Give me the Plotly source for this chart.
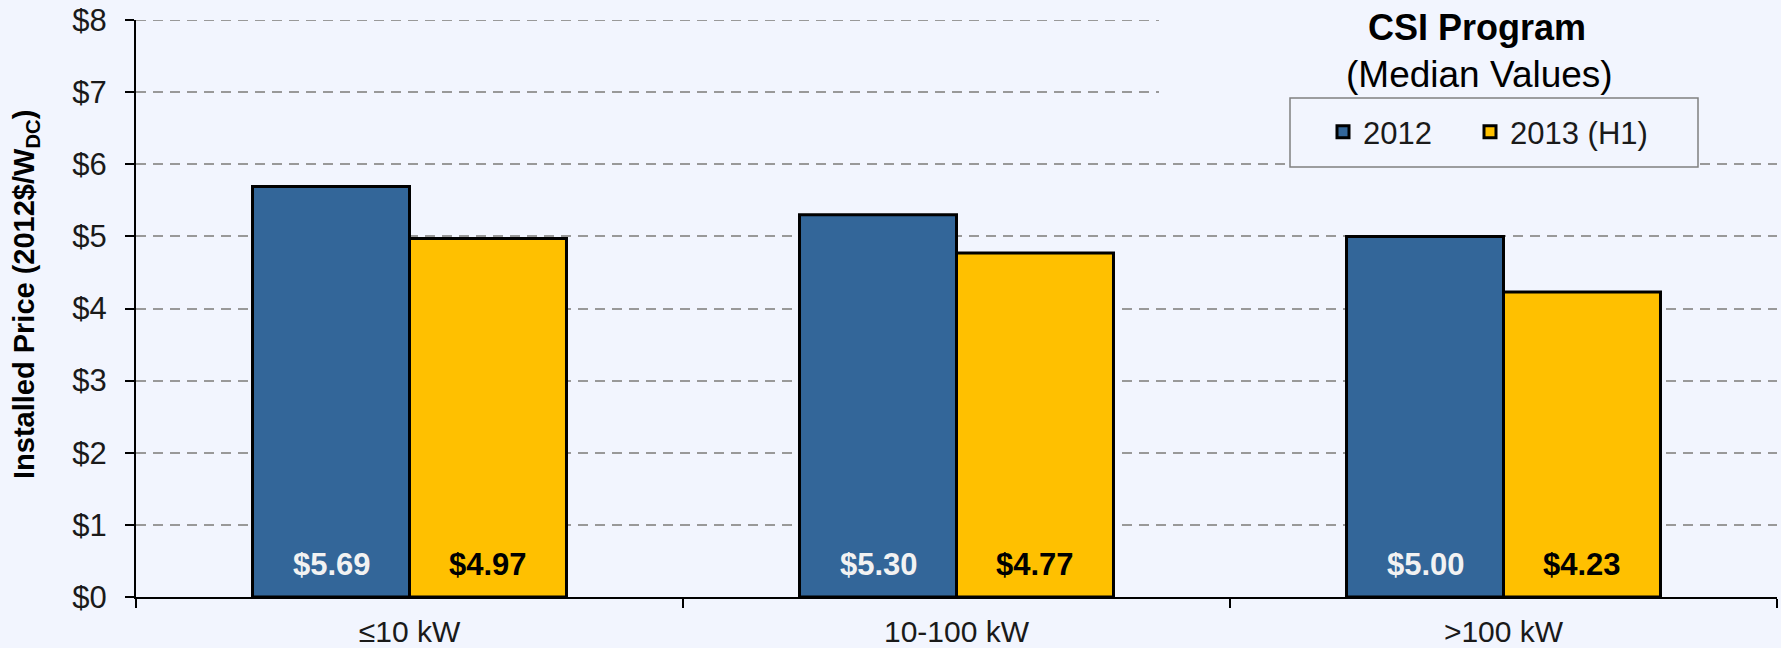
import plotly.graph_objects as go

categories = ["≤10 kW", "10-100 kW", ">100 kW"]
values_2012 = [5.69, 5.30, 5.00]
values_2013 = [4.97, 4.77, 4.23]
series_names = ["2012", "2013 (H1)"]
y_ticks = [0, 1, 2, 3, 4, 5, 6, 7, 8]
y_tick_labels = ["$" + str(v) for v in y_ticks]

BG = "#F2F5FE"
BLUE = "#336699"
GOLD = "#FFC000"
FONT = "Arial, Liberation Sans, sans-serif"

W, H = 1781, 648
ML, MR, MT, MB = 136, 4, 20, 51
PW, PH = W - ML - MR, H - MT - MB


def px_to_paper_x(px):
    return (px - ML) / PW


def px_to_paper_y(py):
    return (H - MB - py) / PH


fig = go.Figure()
fig.add_trace(go.Bar(x=categories, y=values_2012, name=series_names[0], legend="legend",
                     marker=dict(color=BLUE, line=dict(color="black", width=3))))
fig.add_trace(go.Bar(x=categories, y=values_2013, name=series_names[1], legend="legend2",
                     marker=dict(color=GOLD, line=dict(color="black", width=3))))

annotations = []
for cat, v in zip(categories, values_2012):
    annotations.append(dict(x=cat, y=0, xref="x", yref="y", text="<b>$%.2f</b>" % v,
                            showarrow=False, xshift=-78, yshift=13, yanchor="bottom",
                            font=dict(family=FONT, size=31, color="#F2F2F2")))
for cat, v in zip(categories, values_2013):
    annotations.append(dict(x=cat, y=0, xref="x", yref="y", text="<b>$%.2f</b>" % v,
                            showarrow=False, xshift=78, yshift=13, yanchor="bottom",
                            font=dict(family=FONT, size=31, color="black")))

annotations.append(dict(x=px_to_paper_x(1477), y=px_to_paper_y(28), xref="paper", yref="paper",
                        text="<b>CSI Program</b>", showarrow=False, xanchor="center", yanchor="middle",
                        font=dict(family=FONT, size=36, color="black")))
annotations.append(dict(x=px_to_paper_x(1479), y=px_to_paper_y(75), xref="paper", yref="paper",
                        text="(Median Values)", showarrow=False, xanchor="center", yanchor="middle",
                        font=dict(family=FONT, size=37, color="black")))
annotations.append(dict(x=px_to_paper_x(26), y=px_to_paper_y(295), xref="paper", yref="paper",
                        text="<b>Installed Price (2012$/W<sub>DC</sub>)</b>", textangle=-90,
                        showarrow=False, xanchor="center", yanchor="middle",
                        font=dict(family=FONT, size=29, color="black")))

shapes = [
    # top gridline at the last tick (hidden by plotly at the range edge)
    dict(type="line", xref="paper", yref="y", layer="below",
         x0=0, x1=1, y0=y_ticks[-1], y1=y_ticks[-1],
         line=dict(color="#999999", width=2, dash="10px,7px")),
    # title area background hides the upper gridlines
    dict(type="rect", xref="paper", yref="paper", layer="above",
         x0=px_to_paper_x(1159), x1=1.0, y0=px_to_paper_y(96), y1=px_to_paper_y(0),
         fillcolor=BG, line=dict(width=0)),
    # legend box
    dict(type="rect", xref="paper", yref="paper", layer="above",
         x0=px_to_paper_x(1290), x1=px_to_paper_x(1698), y0=px_to_paper_y(167), y1=px_to_paper_y(98),
         fillcolor=BG, line=dict(color="#808080", width=1.5)),
]

legend_style = dict(orientation="h", xanchor="left", yanchor="middle", bgcolor="rgba(0,0,0,0)",
                    borderwidth=0, font=dict(family=FONT, size=31, color="#1a1a1a"), itemwidth=30)

fig.update_layout(
    width=W, height=H,
    margin=dict(l=ML, r=MR, t=MT, b=MB, autoexpand=False),
    paper_bgcolor=BG, plot_bgcolor=BG,
    barmode="group", bargap=0.426, bargroupgap=0,
    font=dict(family=FONT, size=30, color="black"),
    showlegend=True,
    legend=dict(x=px_to_paper_x(1323), y=px_to_paper_y(132), **legend_style),
    legend2=dict(x=px_to_paper_x(1470), y=px_to_paper_y(132), **legend_style),
    annotations=annotations,
    shapes=shapes,
    xaxis=dict(type="category", showline=True, linecolor="black", linewidth=2,
               ticks="outside", tickson="boundaries", ticklen=9, tickwidth=1.5, tickcolor="black",
               showgrid=False, tickfont=dict(family=FONT, size=30, color="#1a1a1a"),
               ticklabelstandoff=7, range=[-0.5, 2.5], automargin=False),
    yaxis=dict(range=[0, 8], tickvals=y_ticks, ticktext=y_tick_labels,
               showline=True, linecolor="black", linewidth=2,
               ticks="outside", ticklen=9, tickwidth=1.5, tickcolor="black",
               showgrid=True, gridcolor="#999999", gridwidth=2, griddash="10px,7px",
               zeroline=False, tickfont=dict(family=FONT, size=31, color="#1a1a1a"),
               ticklabelstandoff=12, automargin=False),
)

fig.write_html("out.html", config={"displayModeBar": False},
               post_script="document.body.style.margin='0px';document.body.style.background='" + BG + "';")
